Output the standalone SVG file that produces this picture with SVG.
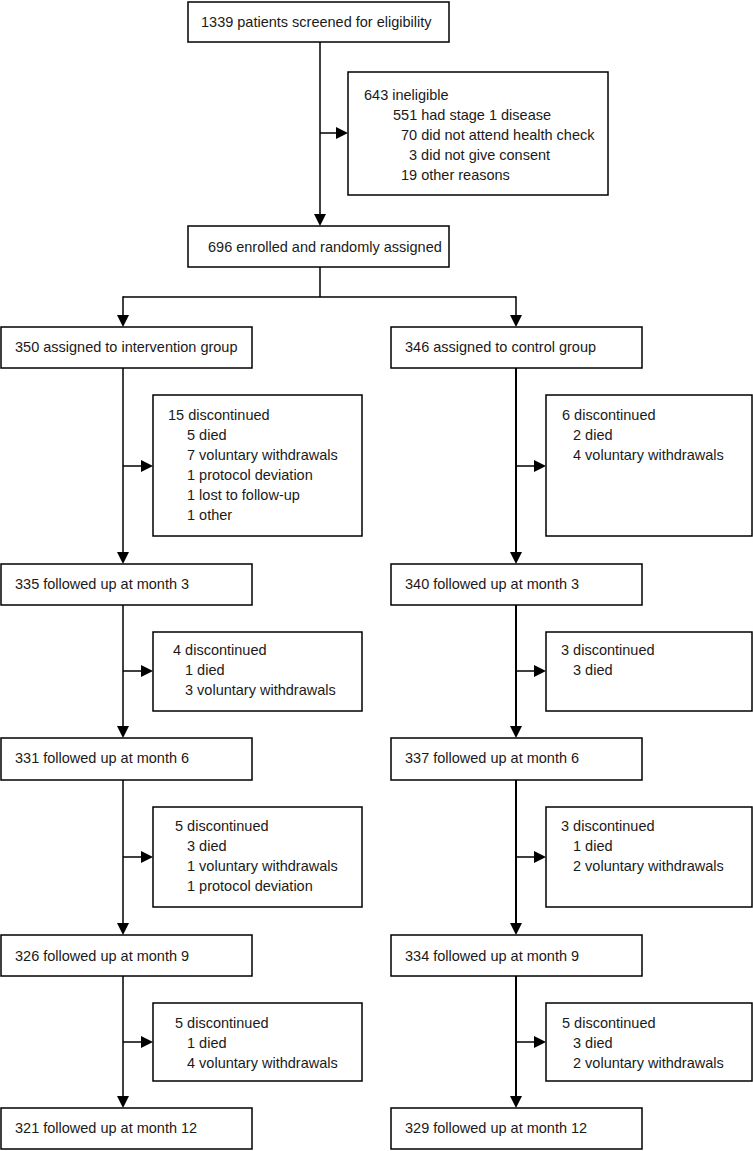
<svg xmlns="http://www.w3.org/2000/svg" width="753" height="1151" viewBox="0 0 753 1151">
<style>
  .box { fill: #fff; stroke: #000; stroke-width: 1.5; }
  .t { font-family: "Liberation Sans", Arial, sans-serif; font-size: 14.5px; fill: #1a1a1a; }
  .ln { fill: none; stroke: #000; stroke-width: 1.5; }
  .lnr { fill: none; stroke: #000; stroke-width: 2; }
</style>
<defs>
  <marker id="arr" viewBox="0 0 12 12" refX="8" refY="6" markerWidth="12" markerHeight="12" markerUnits="userSpaceOnUse" orient="auto">
    <path d="M0,0 L12,6 L0,12 z" fill="#000"/>
  </marker>
</defs>
<rect width="753" height="1151" fill="#fff"/>

<g id="connectors">
  <line class="ln" x1="320" y1="42" x2="320" y2="222" marker-end="url(#arr)"/>
  <line class="ln" x1="320" y1="133" x2="344" y2="133" marker-end="url(#arr)"/>
  <polyline class="ln" points="320,267 320,297"/>
  <polyline class="ln" points="123,297 516,297"/>
  <line class="ln" x1="123" y1="296.25" x2="123" y2="323" marker-end="url(#arr)"/>
  <line class="ln" x1="516" y1="296.25" x2="516" y2="323" marker-end="url(#arr)"/>

  <line class="ln" x1="123" y1="368" x2="123" y2="560" marker-end="url(#arr)"/>
  <line class="ln" x1="123" y1="466" x2="149" y2="466" marker-end="url(#arr)"/>
  <line class="ln" x1="123" y1="605" x2="123" y2="734" marker-end="url(#arr)"/>
  <line class="ln" x1="123" y1="671" x2="149" y2="671" marker-end="url(#arr)"/>
  <line class="ln" x1="123" y1="780" x2="123" y2="931" marker-end="url(#arr)"/>
  <line class="ln" x1="123" y1="857" x2="149" y2="857" marker-end="url(#arr)"/>
  <line class="ln" x1="123" y1="976" x2="123" y2="1104" marker-end="url(#arr)"/>
  <line class="ln" x1="123" y1="1042" x2="149" y2="1042" marker-end="url(#arr)"/>

  <line class="lnr" x1="516" y1="368" x2="516" y2="560" marker-end="url(#arr)"/>
  <line class="ln" x1="516" y1="466" x2="542" y2="466" marker-end="url(#arr)"/>
  <line class="lnr" x1="516" y1="605" x2="516" y2="734" marker-end="url(#arr)"/>
  <line class="ln" x1="516" y1="671" x2="542" y2="671" marker-end="url(#arr)"/>
  <line class="lnr" x1="516" y1="780" x2="516" y2="931" marker-end="url(#arr)"/>
  <line class="ln" x1="516" y1="857" x2="542" y2="857" marker-end="url(#arr)"/>
  <line class="lnr" x1="516" y1="976" x2="516" y2="1104" marker-end="url(#arr)"/>
  <line class="ln" x1="516" y1="1042" x2="542" y2="1042" marker-end="url(#arr)"/>
</g>

<g id="screened">
  <rect class="box" x="188" y="2" width="261" height="40"/>
  <text class="t" x="201" y="27">1339 patients screened for eligibility</text>
</g>
<g id="ineligible">
  <rect class="box" x="348" y="72" width="260" height="123"/>
  <text class="t" x="364" y="100">643 ineligible</text>
  <text class="t" x="393" y="120">551 had stage 1 disease</text>
  <text class="t" x="401" y="140">70 did not attend health check</text>
  <text class="t" x="409" y="160">3 did not give consent</text>
  <text class="t" x="401" y="180">19 other reasons</text>
</g>
<g id="enrolled">
  <rect class="box" x="188" y="226" width="261" height="41"/>
  <text class="t" x="208" y="252">696 enrolled and randomly assigned</text>
</g>

<g id="intervention">
  <rect class="box" x="1" y="327" width="251" height="41"/>
  <text class="t" x="15" y="352">350 assigned to intervention group</text>
</g>
<g id="control">
  <rect class="box" x="391" y="327" width="251" height="41"/>
  <text class="t" x="405" y="352">346 assigned to control group</text>
</g>

<g id="int-disc1">
  <rect class="box" x="153" y="395" width="209" height="141"/>
  <text class="t" x="168" y="420">15 discontinued</text>
  <text class="t" x="187" y="440">5 died</text>
  <text class="t" x="187" y="460">7 voluntary withdrawals</text>
  <text class="t" x="187" y="480">1 protocol deviation</text>
  <text class="t" x="187" y="500">1 lost to follow-up</text>
  <text class="t" x="187" y="520">1 other</text>
</g>
<g id="ctl-disc1">
  <rect class="box" x="546" y="395" width="206" height="141"/>
  <text class="t" x="562" y="420">6 discontinued</text>
  <text class="t" x="573" y="440">2 died</text>
  <text class="t" x="573" y="460">4 voluntary withdrawals</text>
</g>

<g id="int-m3">
  <rect class="box" x="1" y="564" width="251" height="41"/>
  <text class="t" x="15" y="589">335 followed up at month 3</text>
</g>
<g id="ctl-m3">
  <rect class="box" x="391" y="564" width="251" height="41"/>
  <text class="t" x="405" y="589">340 followed up at month 3</text>
</g>

<g id="int-disc2">
  <rect class="box" x="153" y="632" width="209" height="79"/>
  <text class="t" x="173" y="655">4 discontinued</text>
  <text class="t" x="185" y="675">1 died</text>
  <text class="t" x="185" y="695">3 voluntary withdrawals</text>
</g>
<g id="ctl-disc2">
  <rect class="box" x="546" y="632" width="206" height="79"/>
  <text class="t" x="561" y="655">3 discontinued</text>
  <text class="t" x="573" y="675">3 died</text>
</g>

<g id="int-m6">
  <rect class="box" x="1" y="738" width="251" height="42"/>
  <text class="t" x="15" y="763">331 followed up at month 6</text>
</g>
<g id="ctl-m6">
  <rect class="box" x="391" y="738" width="251" height="42"/>
  <text class="t" x="405" y="763">337 followed up at month 6</text>
</g>

<g id="int-disc3">
  <rect class="box" x="153" y="807" width="209" height="100"/>
  <text class="t" x="175" y="831">5 discontinued</text>
  <text class="t" x="187" y="851">3 died</text>
  <text class="t" x="187" y="871">1 voluntary withdrawals</text>
  <text class="t" x="187" y="891">1 protocol deviation</text>
</g>
<g id="ctl-disc3">
  <rect class="box" x="546" y="807" width="206" height="100"/>
  <text class="t" x="561" y="831">3 discontinued</text>
  <text class="t" x="573" y="851">1 died</text>
  <text class="t" x="573" y="871">2 voluntary withdrawals</text>
</g>

<g id="int-m9">
  <rect class="box" x="1" y="935" width="251" height="41"/>
  <text class="t" x="15" y="961">326 followed up at month 9</text>
</g>
<g id="ctl-m9">
  <rect class="box" x="391" y="935" width="251" height="41"/>
  <text class="t" x="405" y="961">334 followed up at month 9</text>
</g>

<g id="int-disc4">
  <rect class="box" x="153" y="1003" width="209" height="78"/>
  <text class="t" x="175" y="1028">5 discontinued</text>
  <text class="t" x="187" y="1048">1 died</text>
  <text class="t" x="187" y="1068">4 voluntary withdrawals</text>
</g>
<g id="ctl-disc4">
  <rect class="box" x="546" y="1003" width="206" height="78"/>
  <text class="t" x="562" y="1028">5 discontinued</text>
  <text class="t" x="573" y="1048">3 died</text>
  <text class="t" x="573" y="1068">2 voluntary withdrawals</text>
</g>

<g id="int-m12">
  <rect class="box" x="1" y="1108" width="251" height="41"/>
  <text class="t" x="15" y="1133">321 followed up at month 12</text>
</g>
<g id="ctl-m12">
  <rect class="box" x="391" y="1108" width="251" height="41"/>
  <text class="t" x="405" y="1133">329 followed up at month 12</text>
</g>
</svg>
